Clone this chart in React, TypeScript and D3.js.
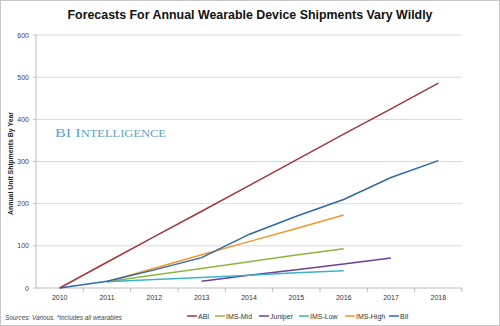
import React from "react";
import * as d3 from "d3";

const years = ["2010", "2011", "2012", "2013", "2014", "2015", "2016", "2017", "2018"];
const yTicks = [0, 100, 200, 300, 400, 500, 600];
const abi = [0, 61, 122, 182, 243, 304, 365, 425, 486];
const imsMid = [null, 15, 31, 46, 62, 78, 93, null, null];
const juniper = [null, null, null, 16, 30, 43, 57, 71, null];
const imsLow = [null, 15, 20, 25, 30, 36, 41, null, null];
const imsHigh = [null, 15, 47, 79, 110, 141, 173, null, null];
const bii = [0, 16, 43, 72, 127, 170, 210, 262, 302];

const seriesNames = ["ABI", "IMS-Mid", "Juniper", "IMS-Low", "IMS-High", "BII"];
const seriesData = [abi, imsMid, juniper, imsLow, imsHigh, bii];
const colors = ["#a3363c", "#8fb43e", "#6b3f98", "#3bb3c9", "#f2962c", "#2e69a6"];
const drawOrder = [0, 1, 2, 3, 4, 5];

export default function App() {
  const W = 500, H = 326;
  const left = 36, right = 462, top = 35, bottom = 288;
  const x = d3.scaleBand<string>().domain(years).range([left, right]);
  const y = d3.scaleLinear().domain([0, 600]).range([bottom, top]);
  const cx = (i: number) => (x(years[i]) as number) + x.bandwidth() / 2;
  const line = d3
    .line<number | null>()
    .defined((d) => d !== null)
    .x((_, i) => cx(i))
    .y((d) => y(d as number));

  const legendLines = [187, 215, 259, 299, 345, 389];
  const font = "'Liberation Sans', Arial, sans-serif";

  return (
    <svg width={W} height={H} style={{ position: "absolute", left: 0, top: 0, background: "#fff" }}>
      <rect x={0.5} y={0.5} width={W - 1} height={H - 1} fill="#fff" stroke="#c8c8c8" />
      <text
        x={250}
        y={19}
        textAnchor="middle"
        fontFamily={font}
        fontWeight="bold"
        fontSize={13.5}
        textLength={365}
        lengthAdjust="spacingAndGlyphs"
        fill="#111"
      >
        Forecasts For Annual Wearable Device Shipments Vary Wildly
      </text>
      {yTicks.map((t) => (
        <g key={t}>
          {t > 0 && (
            <line x1={left} x2={right} y1={y(t)} y2={y(t)} stroke="#d9d9d9" strokeWidth={1} />
          )}
          <line x1={left - 3} x2={left} y1={y(t)} y2={y(t)} stroke="#bdbdbd" />
          <text x={29} y={y(t) + 2.5} textAnchor="end" fontFamily={font} fontSize={7} fill="#444">
            {t}
          </text>
        </g>
      ))}
      <line x1={left} x2={left} y1={top} y2={bottom} stroke="#bdbdbd" />
      <line x1={left} x2={right} y1={bottom} y2={bottom} stroke="#bdbdbd" />
      {years.map((yr, i) => (
        <g key={yr}>
          <line
            x1={(x(yr) as number) + x.bandwidth()}
            x2={(x(yr) as number) + x.bandwidth()}
            y1={bottom}
            y2={bottom + 4}
            stroke="#bdbdbd"
          />
          <text x={cx(i)} y={300} textAnchor="middle" fontFamily={font} fontSize={7} fill="#333">
            {yr}
          </text>
        </g>
      ))}
      <text
        transform={`translate(13,${(top + bottom) / 2 + 2}) rotate(-90)`}
        textAnchor="middle"
        fontFamily={font}
        fontWeight="bold"
        fontSize={7}
        textLength={103}
        lengthAdjust="spacingAndGlyphs"
        fill="#222"
      >
        Annual Unit Shipments By Year
      </text>
      <text x={55} y={136.5} fontFamily="'Liberation Serif', 'DejaVu Serif', serif" fill="#5f9fc6" textLength={111} lengthAdjust="spacingAndGlyphs">
        <tspan fontSize={13}>BI I</tspan>
        <tspan fontSize={10}>NTELLIGENCE</tspan>
      </text>
      {drawOrder.map((k) => (
        <path
          key={seriesNames[k]}
          d={line(seriesData[k] as (number | null)[]) || ""}
          fill="none"
          stroke={colors[k]}
          strokeWidth={1.5}
        />
      ))}
      {seriesNames.map((n, k) => (
        <g key={n}>
          <line x1={legendLines[k]} x2={legendLines[k] + 10} y1={316} y2={316} stroke={colors[k]} strokeWidth={1.5} />
          <text x={legendLines[k] + 11} y={318.5} fontFamily={font} fontSize={7} fill="#333">
            {n}
          </text>
        </g>
      ))}
      <text x={5} y={320} fontFamily={font} fontStyle="italic" fontSize={6.5} fill="#444" textLength={117} lengthAdjust="spacingAndGlyphs">
        Sources: Various. *Includes all wearables
      </text>
    </svg>
  );
}
